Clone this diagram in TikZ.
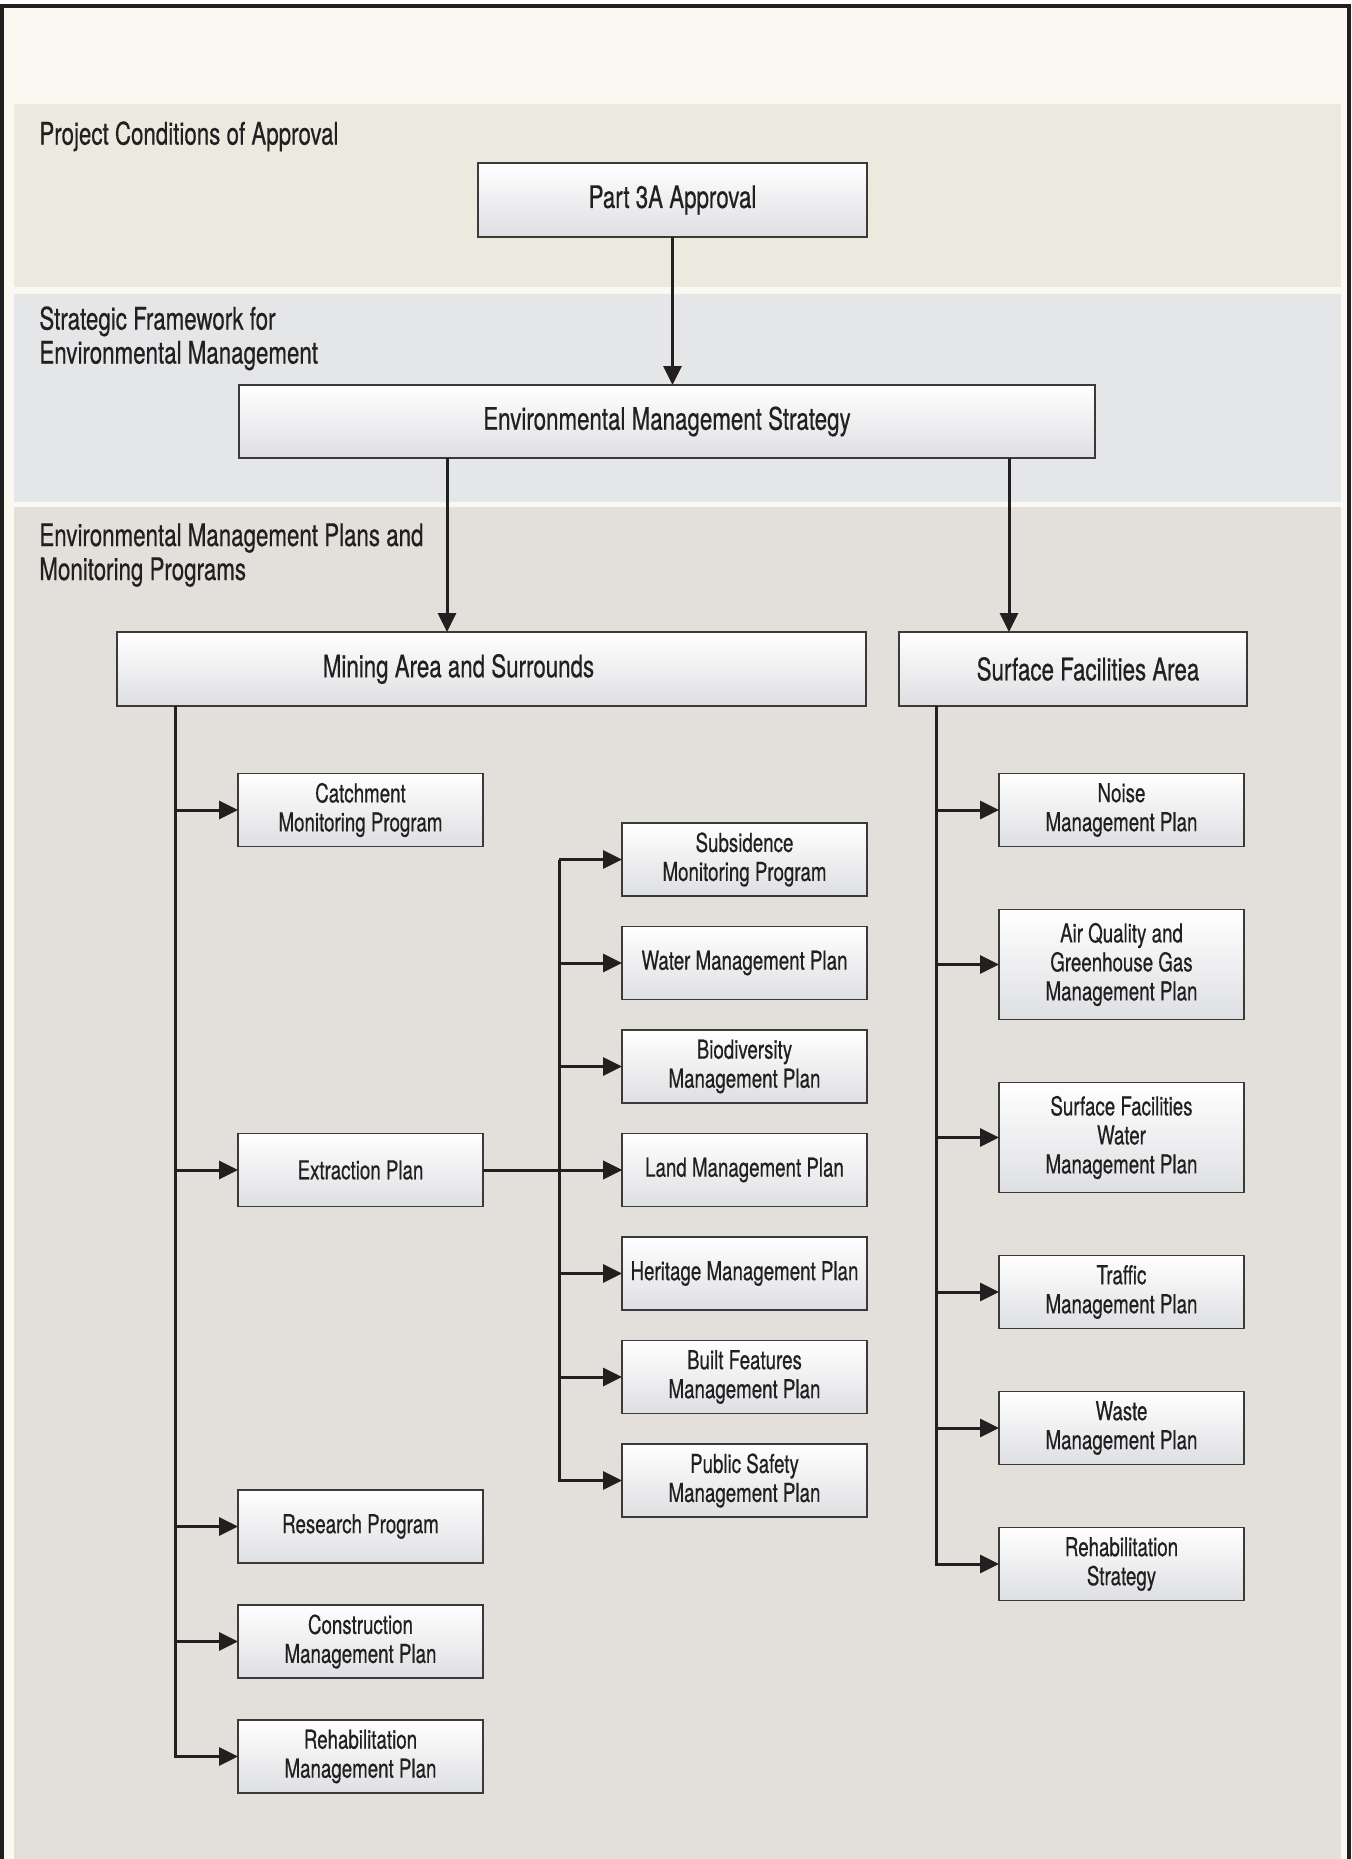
\documentclass[tikz,border=0pt]{standalone}
\usepackage{fontspec}
\setmainfont{TeX Gyre Heros}[FakeStretch=0.72, FakeBold=0.5]
\usetikzlibrary{arrows.meta, positioning}

\definecolor{ink}{HTML}{231F20}
\definecolor{boxline}{HTML}{3A3A3A}
\definecolor{boxgrey}{RGB}{222,223,226}
\definecolor{cream}{HTML}{F9F9F1}
\definecolor{bandA}{HTML}{ECE9DF}
\definecolor{bandB}{HTML}{E5E6E8}
\definecolor{bandC}{HTML}{E3DFDB}

\newcommand{\headfont}{\fontsize{15.5pt}{17pt}\selectfont}
\newcommand{\planfont}{\fontsize{13pt}{14.5pt}\selectfont}

\begin{document}
\begin{tikzpicture}[x=0.5pt, y=-0.5pt,
node distance = 15.25pt and 69.5pt,
box/.style = {draw=boxline, line width=0.75pt,
              top color=white, bottom color=boxgrey,
              text=ink, align=center, inner sep=0pt, outer sep=0pt,
              font=\headfont, minimum height=37pt},
plan/.style = {box, font=\planfont, minimum width=122.5pt, minimum height=36.5pt},
plan_tall/.style = {plan, minimum height=55pt},
group_label/.style = {anchor=north west, align=left, inner sep=0pt,
                      text=ink, font=\headfont},
conn/.style = {color=ink, line width=1.5pt, -{Triangle[length=9.5pt, width=9pt]}},
elbow/.style = {to path={|- (\tikztotarget)}},
                    ]
%---
\useasboundingbox (0,0) rectangle (1351,1859);

\draw[line width=2pt, draw=ink, fill=cream] (2,5.5) rectangle (1349,1880);
\fill[bandA] (14,104) rectangle (1341,287);
\fill[bandB] (14,294) rectangle (1341,502);
\fill[bandC] (14,507) rectangle (1341,1859);

\node[group_label] (lbl_coa) at (39,121) {Project Conditions of Approval};
\node[group_label] (lbl_sf)  at (39,306) {Strategic Framework for\\Environmental Management};
\node[group_label] (lbl_emp) at (39,523) {Environmental Management Plans and\\Monitoring Programs};

\node[box, minimum width=194.5pt] (part3a) at (672.5,200) {Part 3A Approval};
\node[box, minimum width=428pt, minimum height=36.5pt] (ems) at (667,421.5) {Environmental Management Strategy};
\node[box, minimum width=374.5pt] (mining) at (491.5,669) {Mining Area and Surrounds\hspace*{33pt}};
\node[box, minimum width=174pt, right=16.5pt of mining] (sfa) {\hspace*{15pt}Surface Facilities Area};

\node[plan] (catch) at (360.5,810) {Catchment\\Monitoring Program};
\node[plan] (subs) at (744.5,859.5) {Subsidence\\Monitoring Program};
\node[plan, below=of subs] (water) {Water Management Plan};
\node[plan, below=of water] (biodiv) {Biodiversity\\Management Plan};
\node[plan, below=of biodiv] (land) {Land Management Plan};
\node[plan, below=of land] (heritage) {Heritage Management Plan};
\node[plan, below=of heritage] (built) {Built Features\\Management Plan};
\node[plan, below=of built] (safety) {Public Safety\\Management Plan};
\node[plan, left=of land] (extract) {Extraction Plan};
\node[plan, below=141.75pt of extract] (research) {Research Program};
\node[plan, below=21pt of research] (constr) {Construction\\Management Plan};
\node[plan, below=21pt of constr] (rehab_mp) {Rehabilitation\\Management Plan};

\node[plan] (noise) at (1121.5,810) {Noise\\Management Plan};
\node[plan_tall, below=31.5pt of noise] (air) {Air Quality and\\Greenhouse Gas\\Management Plan};
\node[plan_tall, below=31.5pt of air] (sf_water) {Surface Facilities\\Water\\Management Plan};
\node[plan, below=31.5pt of sf_water] (traffic) {Traffic\\Management Plan};
\node[plan, below=31.5pt of traffic] (waste) {Waste\\Management Plan};
\node[plan, below=31.5pt of waste] (rehab_st) {Rehabilitation\\Strategy};

\coordinate (ems_l) at ([xshift=-22.25pt]mining.north |- ems.south);
\coordinate (ems_r) at ([xshift=-32pt]sfa.north |- ems.south);
\coordinate (ma_trunk) at ([xshift=-31.5pt]catch.west |- mining.south);
\coordinate (ep_trunk) at ([xshift=-31.5pt]subs.west);
\coordinate (sf_trunk) at ([xshift=-31.5pt]noise.west |- sfa.south);

\path[conn]
        (part3a.south) edge (part3a.south |- ems.north)
        (ems_l) edge (ems_l |- mining.north)
        (ems_r) edge (ems_r |- sfa.north)
        (extract.east) edge (land.west);

\path[conn, elbow]
        (ma_trunk) edge (catch.west)
        (ma_trunk) edge (extract.west)
        (ma_trunk) edge (research.west)
        (ma_trunk) edge (constr.west)
        (ma_trunk) edge (rehab_mp.west)

        (ep_trunk) edge (subs.west)
        (ep_trunk) edge (water.west)
        (ep_trunk) edge (biodiv.west)
        (ep_trunk) edge (land.west)
        (ep_trunk) edge (heritage.west)
        (ep_trunk) edge (built.west)
        (ep_trunk) edge (safety.west)

        (sf_trunk) edge (noise.west)
        (sf_trunk) edge (air.west)
        (sf_trunk) edge (sf_water.west)
        (sf_trunk) edge (traffic.west)
        (sf_trunk) edge (waste.west)
        (sf_trunk) edge (rehab_st.west);

\end{tikzpicture}
\end{document}
